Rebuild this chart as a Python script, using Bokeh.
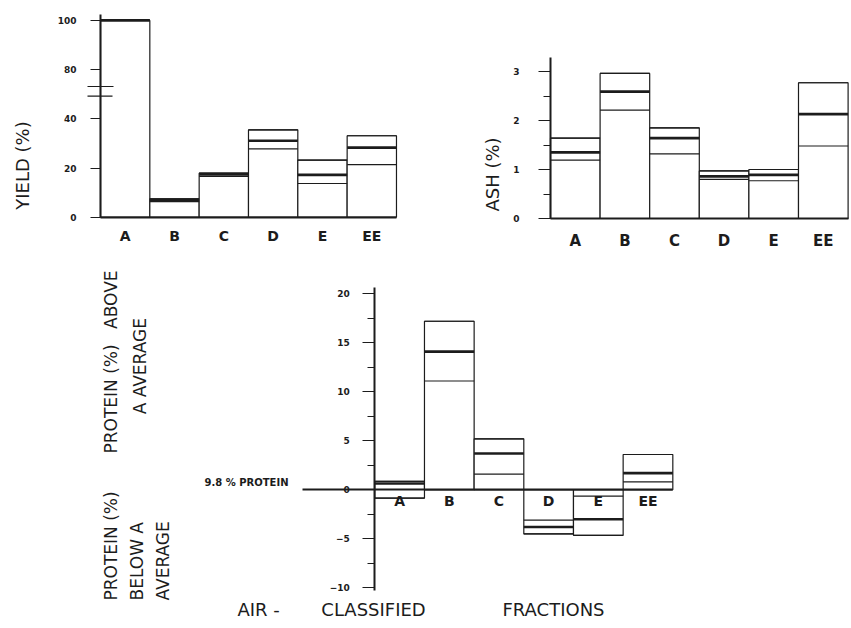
import math
from bokeh.plotting import figure
from bokeh.models import Range1d, LinearAxis, FixedTicker, ColumnDataSource
from bokeh.layouts import column, row
from bokeh.core.properties import value
from bokeh.embed import file_html
from bokeh.resources import INLINE

# ---------------- data ----------------
categories = ["A", "B", "C", "D", "E", "EE"]

yield_lo = [100, 6.3, 16.6, 27.8, 13.7, 21.4]
yield_mean = [100, 7.0, 17.4, 31.1, 17.2, 28.3]
yield_hi = [100, 7.5, 17.9, 35.5, 23.2, 33.1]
yield_ticks = [0, 20, 40, 80, 100]

ash_lo = [1.19, 2.21, 1.32, 0.80, 0.77, 1.48]
ash_mean = [1.35, 2.59, 1.64, 0.86, 0.89, 2.13]
ash_hi = [1.64, 2.96, 1.85, 0.97, 1.00, 2.77]
ash_ticks = [0, 1, 2, 3]

prot_lo = [-0.85, 11.1, 1.6, -4.5, -4.65, 0.8]
prot_mean = [0.65, 14.1, 3.7, -3.8, -3.0, 1.7]
prot_hi = [0.85, 17.2, 5.2, -3.1, -0.65, 3.6]
prot_ticks = [-10, -5, 0, 5, 10, 15, 20]

INK = "#1c1c1c"
FONT = "DejaVu Sans"


def make_fig(w, h, xr, yr):
    p = figure(width=w, height=h, x_range=Range1d(*xr), y_range=Range1d(*yr),
               x_axis_type=None, y_axis_type=None, output_backend="svg",
               toolbar_location=None, min_border=0, outline_line_color=None,
               background_fill_color="white", border_fill_color="white")
    p.grid.visible = False
    return p


def draw_bars(p, lo, mean, hi, ymap=lambda v: v):
    n = len(categories)
    left = list(range(n))
    right = [i + 1 for i in range(n)]
    bottom = [min(0, ymap(l)) for l in lo]
    top = [max(0, ymap(h)) for h in hi]
    src = ColumnDataSource(dict(left=left, right=right, bottom=bottom, top=top,
                                lo=[ymap(v) for v in lo], mean=[ymap(v) for v in mean],
                                hi=[ymap(v) for v in hi]))
    p.quad(left="left", right="right", bottom="bottom", top="top", source=src,
           fill_color="white", line_color=INK, line_width=1.2)
    p.segment(x0="left", x1="right", y0="lo", y1="lo", source=src, line_color=INK, line_width=1.2)
    p.segment(x0="left", x1="right", y0="hi", y1="hi", source=src, line_color=INK, line_width=1.2)
    p.segment(x0="left", x1="right", y0="mean", y1="mean", source=src, line_color=INK, line_width=2.6)


def style_axis(ax, size, bold=True):
    ax.axis_line_color = INK
    ax.major_tick_line_color = INK
    ax.minor_tick_line_color = INK
    ax.major_label_text_color = INK
    ax.major_label_text_font = FONT
    ax.major_label_text_font_size = size
    ax.major_label_text_font_style = "bold" if bold else "normal"


cat_ticks = [i + 0.5 for i in range(len(categories))]
cat_over = {t: c for t, c in zip(cat_ticks, categories)}

# ---------------- yield panel (broken axis: 60 omitted) ----------------
W1, H1 = 420, 255
bw1, ax1, base1, ppu1 = 49.33, 100.0, 216.7, 2.46


def ybreak(v):
    return v - 20 if v > 50 else v


def X1(px):
    return (px - ax1) / bw1


def Y1(py):
    return (base1 - py) / ppu1


p1 = make_fig(W1, H1, (X1(0), X1(W1)), (Y1(H1), Y1(0)))
draw_bars(p1, yield_lo, yield_mean, yield_hi, ybreak)

y1ax = LinearAxis(fixed_location=0, bounds=(0, Y1(14)),
                  ticker=FixedTicker(ticks=[ybreak(t) for t in yield_ticks], minor_ticks=[]),
                  major_label_overrides={ybreak(t): str(t) for t in yield_ticks},
                  major_tick_out=10, major_tick_in=0, axis_line_width=2,
                  major_label_standoff=14)
style_axis(y1ax, "9px")
p1.add_layout(y1ax, "left")

x1ax = LinearAxis(fixed_location=0, bounds=(0, 6), ticker=FixedTicker(ticks=cat_ticks, minor_ticks=[]),
                  major_label_overrides=cat_over, major_tick_out=0, major_tick_in=0,
                  axis_line_width=2, major_label_standoff=11)
style_axis(x1ax, "14px")
x1ax.major_tick_line_color = None
p1.add_layout(x1ax, "below")

# axis break marks
p1.segment(x0=[X1(87), X1(87)], x1=[X1(113), X1(112)], y0=[Y1(86), Y1(95.7)], y1=[Y1(86), Y1(95.7)],
           line_color=INK, line_width=1.2)
p1.text(x=[X1(22)], y=[Y1(165)], text=["YIELD (%)"], angle=math.pi / 2, text_align="center",
        text_baseline="middle", text_font=value(FONT), text_font_size="18px", text_color=INK)

# ---------------- ash panel ----------------
W2, H2 = 431, 255
bw2, ax2, base2, ppu2 = 49.6, 130.0, 218.0, 49.0


def X2(px):
    return (px - ax2) / bw2


def Y2(py):
    return (base2 - py) / ppu2


p2 = make_fig(W2, H2, (X2(0), X2(W2)), (Y2(H2), Y2(0)))
draw_bars(p2, ash_lo, ash_mean, ash_hi)

y2ax = LinearAxis(fixed_location=0, bounds=(0, Y2(57)),
                  ticker=FixedTicker(ticks=ash_ticks, minor_ticks=[t + 0.5 for t in ash_ticks[:-1]]),
                  major_tick_out=12, major_tick_in=0, minor_tick_out=7, minor_tick_in=0,
                  axis_line_width=2, major_label_standoff=19)
style_axis(y2ax, "9px")
p2.add_layout(y2ax, "left")

x2ax = LinearAxis(fixed_location=0, bounds=(0, 6), ticker=FixedTicker(ticks=cat_ticks, minor_ticks=[]),
                  major_label_overrides=cat_over, major_tick_out=0, major_tick_in=0,
                  axis_line_width=2, major_label_standoff=13)
style_axis(x2ax, "15px")
x2ax.major_tick_line_color = None
p2.add_layout(x2ax, "below")

p2.text(x=[X2(72)], y=[Y2(174)], text=["ASH (%)"], angle=math.pi / 2, text_align="center",
        text_baseline="middle", text_font=value(FONT), text_font_size="18px", text_color=INK)

# ---------------- protein panel ----------------
W3, H3, OFF3 = 851, 373, 255
bw3, ax3, base3, ppu3 = 49.67, 374.3, 234.3, 9.8


def X3(px):
    return (px - ax3) / bw3


def Y3(py):  # py in page pixels
    return (base3 - (py - OFF3)) / ppu3


p3 = make_fig(W3, H3, (X3(0), X3(W3)), (Y3(OFF3 + H3), Y3(OFF3)))
draw_bars(p3, prot_lo, prot_mean, prot_hi)

y3ax = LinearAxis(fixed_location=0, bounds=(-10.3, Y3(287)),
                  ticker=FixedTicker(ticks=prot_ticks, minor_ticks=[t + 2.5 for t in prot_ticks[:-1]]),
                  major_tick_out=12, major_tick_in=0, minor_tick_out=7, minor_tick_in=0,
                  axis_line_width=2, major_label_standoff=13)
style_axis(y3ax, "9px")
p3.add_layout(y3ax, "left")

x3ax = LinearAxis(fixed_location=0, bounds=(X3(302), 6), ticker=FixedTicker(ticks=cat_ticks, minor_ticks=[]),
                  major_label_overrides=cat_over, major_tick_out=0, major_tick_in=0,
                  axis_line_width=2, major_label_standoff=3)
style_axis(x3ax, "14px")
x3ax.major_tick_line_color = None
p3.add_layout(x3ax, "below")

p3.text(x=[X3(288)], y=[Y3(487)], text=["9.8 % PROTEIN"], text_align="right", text_baseline="bottom",
        text_font=value(FONT), text_font_size="10px", text_font_style="bold", text_color=INK)

rot_common = dict(angle=math.pi / 2, text_baseline="middle", text_font=value(FONT),
                  text_font_size="17px", text_color=INK)
p3.text(x=[X3(110)], y=[Y3(453)], text=["PROTEIN (%)"], text_align="left", **rot_common)
p3.text(x=[X3(110)], y=[Y3(270)], text=["ABOVE"], text_align="right", **rot_common)
p3.text(x=[X3(139)], y=[Y3(363)], text=["A  AVERAGE"], text_align="center", **rot_common)
p3.text(x=[X3(110), X3(136), X3(162)], y=[Y3(600)] * 3, text=["PROTEIN (%)", "BELOW  A", "AVERAGE"],
        text_align="left", **rot_common)

p3.text(x=[X3(261), X3(373), X3(553)], y=[Y3(609)] * 3, text=["AIR  -", "CLASSIFIED", "FRACTIONS"],
        text_align="center", text_baseline="middle", text_font=value(FONT), text_font_size="18px",
        text_color=INK)

layout = column(row(p1, p2, spacing=0), p3, spacing=0)
open("out.html", "w").write(file_html(layout, INLINE))
